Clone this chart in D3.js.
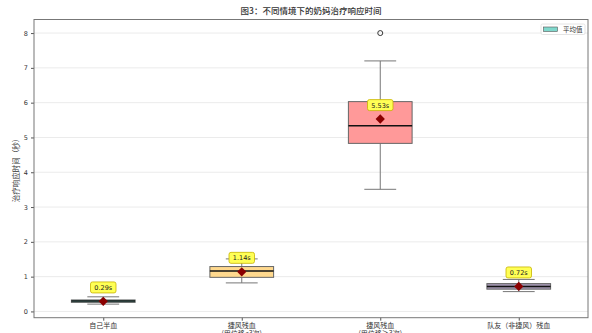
<!DOCTYPE html>
<html>
<head>
<meta charset="utf-8">
<script src="https://cdn.jsdelivr.net/npm/d3@7"></script>
<style>
html,body{margin:0;padding:0;background:#fff;overflow:hidden;}
svg{display:block;}
</style>
</head>
<body>
<svg id="chart" width="592" height="333"></svg>
<script>
const categories = ["自己半血", "捷风残血\n(用位移<3次)", "捷风残血\n(用位移≥3次)", "队友（非捷风）残血"];
const whiskerLow = [0.21, 0.82, 3.51, 0.57];
const q1 = [0.26, 0.98, 4.83, 0.64];
const medians = [0.30, 1.16, 5.34, 0.72];
const q3 = [0.33, 1.29, 6.03, 0.80];
const whiskerHigh = [0.42, 1.51, 7.20, 0.92];
const means = [0.29, 1.14, 5.53, 0.72];
const outliers = [[], [], [8.0], []];
const boxColors = ["#7fd8cc", "#ffd98e", "#ff9999", "#a296b0"];
const yTicks = [0, 1, 2, 3, 4, 5, 6, 7, 8];
const title = "图3：不同情境下的奶妈治疗响应时间";
const yLabel = "治疗响应时间（秒）";
const legendLabel = "平均值";

const svg = d3.select("#chart");
const m = {left: 34, right: 4, top: 19.5, bottom: 15.3};
const W = 592, H = 333;
const cjk = "'Noto Sans CJK SC', 'DejaVu Sans', sans-serif";
const num = "'DejaVu Sans', sans-serif";

const x = d3.scaleLinear().domain([0.5, 4.5]).range([m.left, W - m.right]);
const y = d3.scaleLinear().domain([-0.18, 8.39]).range([H - m.bottom, m.top]);
const step = x(2) - x(1);
const boxW = step * 0.46;
const capW = boxW * 0.5;

// grid
svg.append("g").selectAll("line").data(yTicks).join("line")
  .attr("x1", x(0.5)).attr("x2", x(4.5))
  .attr("y1", d => y(d)).attr("y2", d => y(d))
  .attr("stroke", "#ebebeb").attr("stroke-width", 1);

// y axis
const yAxis = svg.append("g").attr("transform", `translate(${m.left},0)`)
  .call(d3.axisLeft(y).tickValues(yTicks).tickSize(3).tickPadding(3).tickFormat(d3.format("d")));
yAxis.select(".domain").remove();
yAxis.selectAll("line").attr("stroke", "#555");
yAxis.selectAll("text").attr("font-family", num).attr("font-size", 6.5).attr("fill", "#333");

// x axis
const xAxis = svg.append("g").attr("transform", `translate(0,${H - m.bottom})`)
  .call(d3.axisBottom(x).tickValues([1, 2, 3, 4]).tickSize(3).tickFormat(""));
xAxis.select(".domain").remove();
xAxis.selectAll("line").attr("stroke", "#555");
categories.forEach((c, i) => {
  const lines = c.split("\n");
  const t = svg.append("text").attr("x", x(i + 1)).attr("y", H - m.bottom + 10)
    .attr("text-anchor", "middle").attr("font-family", cjk).attr("font-size", 7).attr("fill", "#333");
  lines.forEach((l, k) => t.append("tspan").attr("x", x(i + 1)).attr("dy", k === 0 ? 0 : 8.5).text(l));
});

// boxes
const g = svg.append("g");
categories.forEach((c, i) => {
  const cx = x(i + 1);
  // whiskers
  g.append("line").attr("x1", cx).attr("x2", cx).attr("y1", y(q3[i])).attr("y2", y(whiskerHigh[i]))
    .attr("stroke", "#777").attr("stroke-width", 1);
  g.append("line").attr("x1", cx).attr("x2", cx).attr("y1", y(q1[i])).attr("y2", y(whiskerLow[i]))
    .attr("stroke", "#777").attr("stroke-width", 1);
  [whiskerHigh[i], whiskerLow[i]].forEach(v => {
    g.append("line").attr("x1", cx - capW / 2).attr("x2", cx + capW / 2).attr("y1", y(v)).attr("y2", y(v))
      .attr("stroke", "#777").attr("stroke-width", 1);
  });
  g.append("rect").attr("x", cx - boxW / 2).attr("width", boxW)
    .attr("y", y(q3[i])).attr("height", y(q1[i]) - y(q3[i]))
    .attr("fill", boxColors[i]).attr("stroke", "#666").attr("stroke-width", 1);
  g.append("line").attr("x1", cx - boxW / 2).attr("x2", cx + boxW / 2)
    .attr("y1", y(medians[i])).attr("y2", y(medians[i]))
    .attr("stroke", "#111").attr("stroke-width", 1.5);
  outliers[i].forEach(v => {
    g.append("circle").attr("cx", cx).attr("cy", y(v)).attr("r", 2.5)
      .attr("fill", "none").attr("stroke", "#222").attr("stroke-width", 0.9);
  });
  // mean diamond
  g.append("path").attr("d", d3.symbol().type(d3.symbolDiamond2).size(55)())
    .attr("transform", `translate(${cx},${y(means[i])})`)
    .attr("fill", "#8b0000");
  // label
  const ly = y(means[i] + 0.4);
  const txt = means[i].toFixed(2) + "s";
  const tw = txt.length * 4.1 + 5;
  g.append("rect").attr("x", cx - tw / 2).attr("y", ly - 5.5).attr("width", tw).attr("height", 11)
    .attr("rx", 2).attr("fill", "#ffff55").attr("stroke", "#c8b400").attr("stroke-width", 0.8);
  g.append("text").attr("x", cx).attr("y", ly + 2.5).attr("text-anchor", "middle")
    .attr("font-family", num).attr("font-size", 6.5).attr("fill", "#222").text(txt);
});

// frame
svg.append("rect").attr("x", m.left).attr("y", m.top)
  .attr("width", W - m.right - m.left).attr("height", H - m.bottom - m.top)
  .attr("fill", "none").attr("stroke", "#777").attr("stroke-width", 1);

// title
svg.append("text").attr("x", (m.left + W - m.right) / 2).attr("y", 14)
  .attr("text-anchor", "middle").attr("font-family", cjk).attr("font-size", 8.5)
  .attr("font-weight", "500").attr("fill", "#333").text(title);

// y label
svg.append("text").attr("transform", `translate(19,${(m.top + H - m.bottom) / 2}) rotate(-90)`)
  .attr("text-anchor", "middle").attr("font-family", cjk).attr("font-size", 7.5).attr("fill", "#333").text(yLabel);

// legend
const lg = svg.append("g");
lg.append("rect").attr("x", 541).attr("y", 24).attr("width", 44).attr("height", 10.5)
  .attr("rx", 1.5).attr("fill", "#fff").attr("stroke", "#ddd").attr("stroke-width", 0.8);
lg.append("rect").attr("x", 543.5).attr("y", 27).attr("width", 14).attr("height", 4.5)
  .attr("fill", boxColors[0]).attr("stroke", "#555").attr("stroke-width", 0.6);
lg.append("text").attr("x", 563).attr("y", 31.8).attr("font-family", cjk).attr("font-size", 6.5)
  .attr("fill", "#333").text(legendLabel);
</script>
</body>
</html>
